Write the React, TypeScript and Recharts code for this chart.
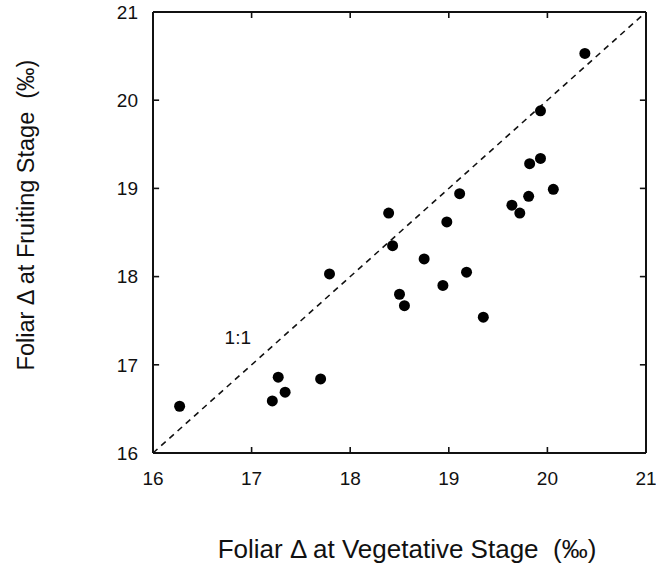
import React from 'react';
import { ScatterChart, Scatter, XAxis, YAxis, ReferenceLine, ReferenceDot } from 'recharts';

// foliar Δ, vegetative stage (x) vs fruiting stage (y), ‰
const vegetative = [
  16.27, 17.21, 17.27, 17.34, 17.7, 17.79, 18.39, 18.43, 18.5, 18.55, 18.75, 18.94,
  18.98, 19.11, 19.18, 19.35, 19.64, 19.72, 19.81, 19.82, 19.93, 19.93, 20.06, 20.38,
];
const fruiting = [
  16.53, 16.59, 16.86, 16.69, 16.84, 18.03, 18.72, 18.35, 17.8, 17.67, 18.2, 17.9,
  18.62, 18.94, 18.05, 17.54, 18.81, 18.72, 18.91, 19.28, 19.34, 19.88, 18.99, 20.53,
];
const ticks = [16, 17, 18, 19, 20, 21];

const points = vegetative.map((v, i) => ({ x: v, y: fruiting[i] }));

const font = '"Liberation Sans", Arial, sans-serif';
const tickStyle = { fontSize: 19, fill: '#111', fontFamily: font };
const lo = 16;
const hi = 21;
// inward tick length, in axis units (~6px)
const tx = 0.062;
const ty = 0.068;

const tickSegments: { x: number; y: number }[][] = [];
ticks.slice(1, -1).forEach((t) => {
  tickSegments.push([{ x: t, y: lo }, { x: t, y: lo + ty }]);
  tickSegments.push([{ x: t, y: hi }, { x: t, y: hi - ty }]);
  tickSegments.push([{ x: lo, y: t }, { x: lo + tx, y: t }]);
  tickSegments.push([{ x: hi, y: t }, { x: hi - tx, y: t }]);
});

const App: React.FC = () => {
  return (
    <div style={{ position: 'absolute', left: 0, top: 0, background: '#fff' }}>
      <ScatterChart width={656} height={566} margin={{ top: 12, right: 10, bottom: 83, left: 93 }}>
        <XAxis
          xAxisId="b"
          type="number"
          dataKey="x"
          domain={[lo, hi]}
          ticks={ticks}
          tickLine={false}
          tickMargin={13}
          tick={tickStyle}
          stroke="#111"
          strokeWidth={2}
          height={30}
        />
        <YAxis
          yAxisId="l"
          type="number"
          dataKey="y"
          domain={[lo, hi]}
          ticks={ticks}
          tickLine={false}
          tickMargin={9}
          width={60}
          tick={tickStyle}
          stroke="#111"
          strokeWidth={2}
        />
        <ReferenceLine xAxisId="b" yAxisId="l" y={hi} stroke="#111" strokeWidth={2} />
        <ReferenceLine xAxisId="b" yAxisId="l" x={hi} stroke="#111" strokeWidth={2} />
        {tickSegments.map((s, i) => (
          <ReferenceLine key={i} xAxisId="b" yAxisId="l" segment={s} stroke="#111" strokeWidth={1.6} />
        ))}
        <ReferenceLine
          xAxisId="b"
          yAxisId="l"
          segment={[{ x: lo, y: lo }, { x: hi, y: hi }]}
          stroke="#111"
          strokeWidth={1.6}
          strokeDasharray="6 5"
        />
        <ReferenceDot
          xAxisId="b"
          yAxisId="l"
          x={16.86}
          y={17.31}
          r={0}
          fill="none"
          stroke="none"
          label={{ value: '1:1', position: 'center', fontSize: 19, fill: '#111', fontFamily: font }}
        />
        <Scatter
          xAxisId="b"
          yAxisId="l"
          data={points}
          fill="#000"
          shape={(p: any) => <circle cx={p.cx} cy={p.cy} r={5.5} fill="#000" />}
          isAnimationActive={false}
        />
        <text
          x={407}
          y={558}
          textAnchor="middle"
          fontSize={26}
          fontFamily={font}
          fill="#111"
        >
          {'Foliar Δ at Vegetative Stage\u00a0\u00a0(‰)'}
        </text>
        <text
          x={26}
          y={215}
          dy={8}
          textAnchor="middle"
          fontSize={23.5}
          fontFamily={font}
          fill="#111"
          transform="rotate(-90 26 215)"
        >
          {'Foliar Δ at Fruiting Stage\u00a0\u00a0(‰)'}
        </text>
      </ScatterChart>
    </div>
  );
};

export default App;
